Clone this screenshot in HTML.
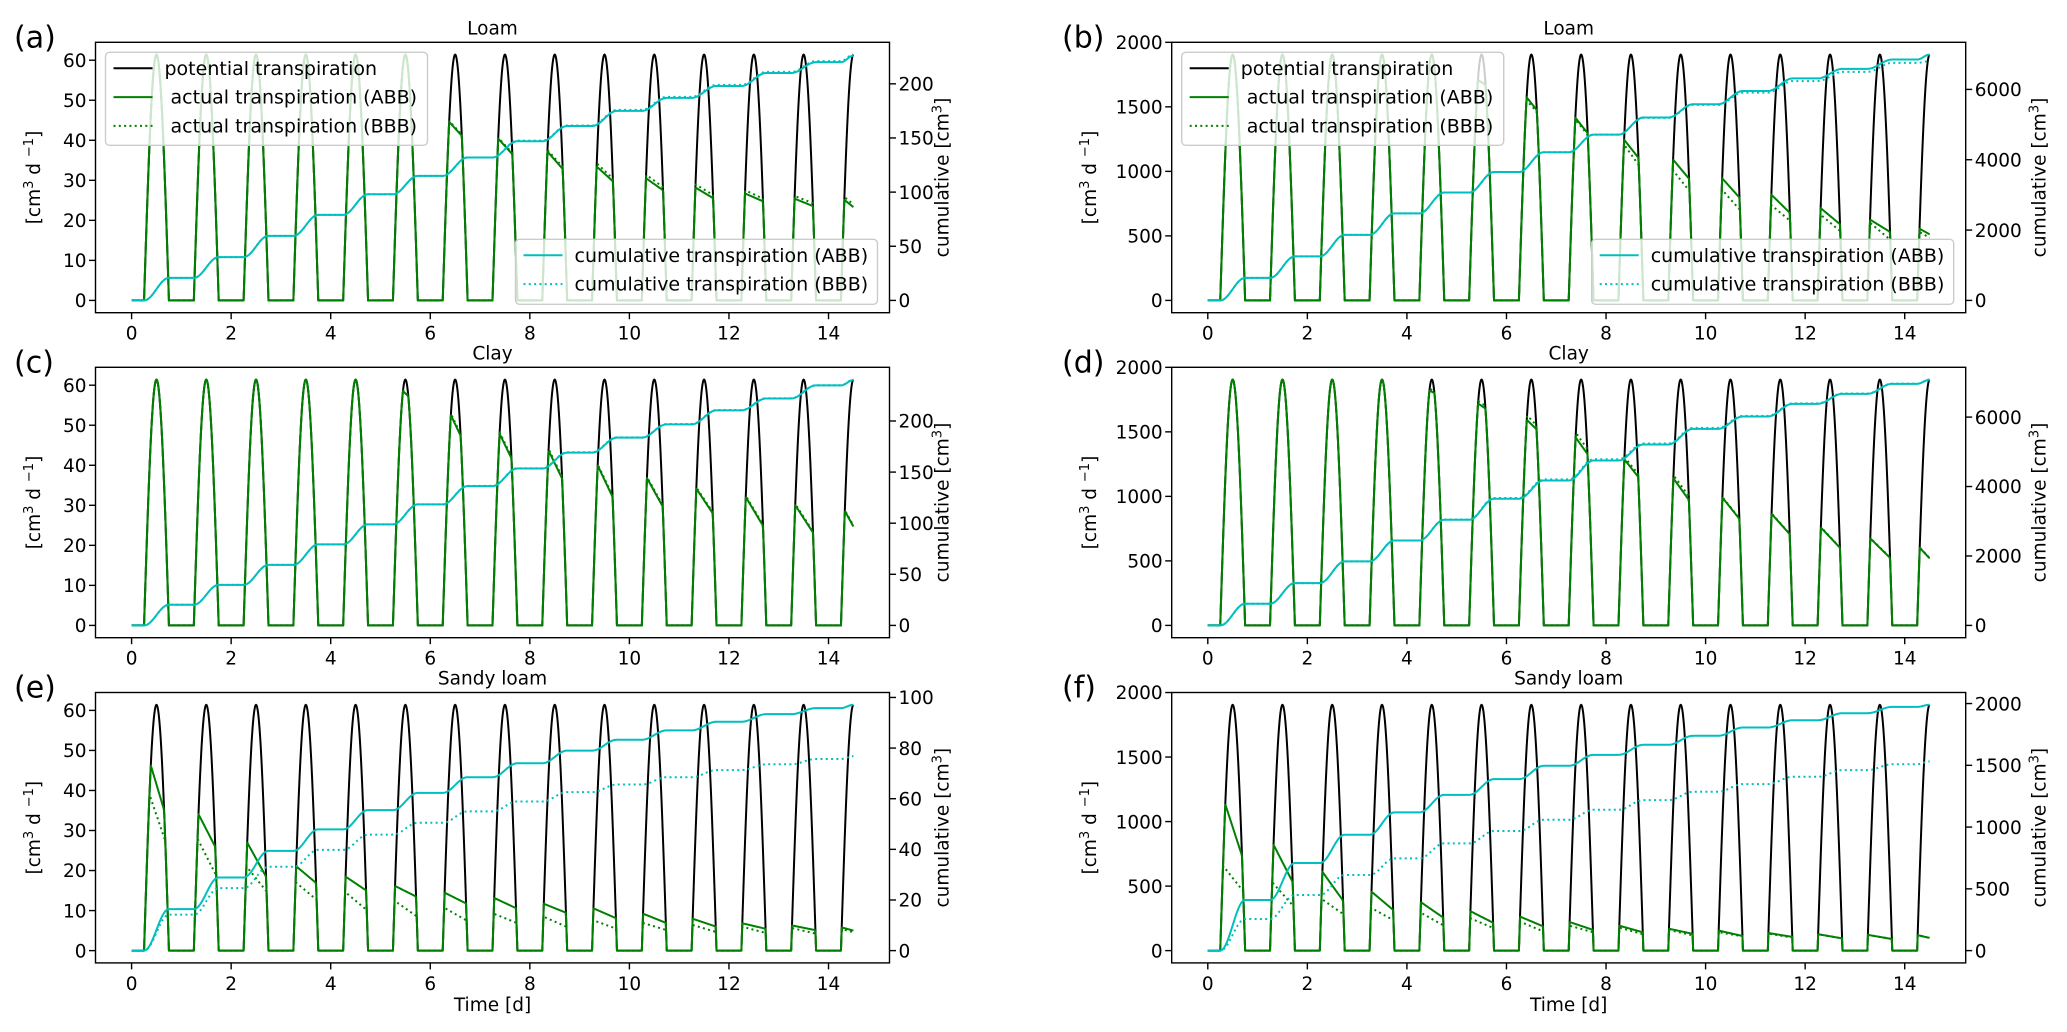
<!DOCTYPE html>
<html><head><meta charset="utf-8"><title>Transpiration chart</title>
<style>
html,body{margin:0;padding:0;background:#fff;}
svg{display:block;}
text{font-family:"DejaVu Sans","Liberation Sans",sans-serif;fill:#000;white-space:pre;}
</style></head>
<body>
<svg id="chart" xmlns="http://www.w3.org/2000/svg" width="2067" height="1032" viewBox="0 0 2067 1032"></svg>
<script>
// ---------- shared data ----------
const xTicks = [0, 2, 4, 6, 8, 10, 12, 14];
const tEnd = 14.5;
const potPeakL = 61.4;
const potPeakR = 1905;
const leftTicksL = [0, 10, 20, 30, 40, 50, 60];
const leftTicksR = [0, 500, 1000, 1500, 2000];
const rightTicksAC = [0, 50, 100, 150, 200];
const rightTicksE = [0, 20, 40, 60, 80, 100];
const rightTicksBD = [0, 2000, 4000, 6000];
const rightTicksF = [0, 500, 1000, 1500, 2000];
const N = null;
// ---------- panel (a) Loam ----------
const aAbbStart = [N,N,N,N,N,N,44.6,40.2,36.8,33.0,30.1,27.8,26.4,25.1,24.5];
const aAbbEnd   = [N,N,N,N,N,N,41.3,36.9,33.4,30.3,28.0,26.0,25.1,23.9,22.1];
const aBbbStart = [N,N,N,N,N,N,44.8,40.4,37.2,33.8,31.0,28.6,27.2,25.8,25.2];
const aBbbEnd   = [N,N,N,N,N,N,41.6,37.2,33.9,31.0,28.8,26.8,25.8,24.6,22.8];
const aCumAbb = [20.8,40,59.6,79,98,115,132,147,161,175,187,198,210,220,226];
const aCumBbb = [20.8,40,59.6,79,98,115,132,147.5,161.5,176,188,199,211,221,227];
// ---------- panel (b) Loam ----------
const bAbbStart = [N,N,N,N,N,1720,1586,1418,1237,1076,926,797,693,608,538];
const bAbbEnd   = [N,N,N,N,N,1660,1470,1301,1120,965,823,706,616,551,486];
const bBbbStart = [N,N,N,N,N,1720,1560,1405,1198,991,836,719,642,577,512];
const bBbbEnd   = [N,N,N,N,N,1660,1457,1288,1069,875,732,642,564,499,460];
const bCumAbb = [640,1251,1863,2474,3067,3650,4214,4713,5202,5579,5955,6312,6585,6849,6990];
const bCumBbb = [640,1251,1863,2474,3067,3650,4214,4713,5190,5560,5908,6237,6500,6755,6802];
// ---------- panel (c) Clay ----------
const cAbbStart = [N,N,N,N,N,59.4,53.4,48.2,43.6,39.5,36.2,33.5,31.2,29.1,27.4];
const cAbbEnd   = [N,N,N,N,N,56.5,47.1,42.0,37.4,33.2,30.8,29.0,26.2,24.5,22.0];
const cBbbStart = [N,N,N,N,N,59.6,53.8,48.6,44.0,39.8,36.5,33.8,31.5,29.4,27.6];
const cBbbEnd   = [N,N,N,N,N,56.8,47.5,42.4,37.8,33.5,31.1,29.3,26.5,24.8,22.3];
const cCumAbb = [20.2,39.7,59.2,79.3,98.9,118.4,136.3,153.5,169,183.7,196.7,210.4,222,234.8,240];
const cCumBbb = [20.2,39.7,59.2,79.3,98.9,118.4,136.5,153.8,169.4,184,197,210.7,222.3,235,240.5];
// ---------- panel (d) Clay ----------
const dAbbStart = [N,N,N,N,1837,1733,1604,1462,1281,1125,970,841,732,647,569];
const dAbbEnd   = [N,N,N,N,1785,1669,1514,1332,1164,996,854,737,634,556,470];
const dBbbStart = [N,N,N,N,1850,1753,1640,1500,1300,1150,975,845,736,650,572];
const dBbbEnd   = [N,N,N,N,1800,1690,1545,1370,1185,1025,858,740,637,559,473];
const dCumAbb = [624,1219,1843,2447,3042,3647,4175,4750,5211,5662,6017,6382,6670,6958,7073];
const dCumBbb = [624,1219,1843,2447,3050,3670,4205,4785,5240,5690,6035,6395,6680,6965,7080];
// ---------- panel (e) Sandy loam ----------
const eAbbStart = [46.5,33.2,25.7,20.3,17.8,15.6,13.9,12.6,11.2,10.0,8.7,7.5,6.5,6.0,5.4];
const eAbbEnd   = [36.5,27.4,20.3,17.8,15.8,14.1,12.4,11.2,10.0,8.7,7.5,6.5,5.8,5.4,4.6];
const eBbbStart = [38.2,26.6,19.9,16.2,13.7,11.6,10.0,8.7,7.9,7.1,6.5,6.0,5.6,5.3,5.0];
const eBbbEnd   = [29.5,20.7,16.2,13.7,11.2,9.5,8.3,7.5,6.6,6.0,5.6,5.1,4.8,4.6,4.2];
const eCumAbb = [16.4,28.9,39.4,47.9,55.5,62.3,68.5,74,79,83.3,87,90.4,93.4,95.8,97.1];
const eCumBbb = [14.2,24.7,33.1,39.8,45.8,50.5,55,58.9,62.6,65.6,68.5,71.3,73.6,75.7,76.8];
// ---------- panel (f) Sandy loam ----------
const fAbbStart = [1100,776,569,427,349,285,246,207,181,160,145,129,119,114,109];
const fAbbEnd   = [815,595,440,349,285,238,207,176,155,140,124,114,103,98,88];
const fBbbStart = [621,492,375,310,272,233,207,181,166,150,135,124,119,114,109];
const fBbbEnd   = [505,388,310,259,220,194,168,155,140,129,119,109,103,98,86];
const fCumAbb = [410,709,938,1119,1261,1388,1496,1585,1666,1739,1806,1865,1922,1973,1990];
const fCumBbb = [256,450,612,747,868,968,1059,1140,1218,1286,1348,1407,1461,1509,1531];

// ---------- layout ----------
const NS = 'http://www.w3.org/2000/svg';
const svg = document.getElementById('chart');
const colX = [95.5, 1171.7];
const rowY = [42.3, 367.3, 692.5];
const PW = 794, PH = 270.4;
const XMIN = -0.725, XMAX = 15.225;
const GREEN = '#008000', CYAN = '#00bfbf';

function mk(tag, attrs, parent) {
  const e = document.createElementNS(NS, tag);
  for (const k in attrs) e.setAttribute(k, attrs[k]);
  (parent || svg).appendChild(e);
  return e;
}
function txt(s, attrs, parent) { const e = mk('text', attrs, parent); e.textContent = s; return e; }

function potential(t, P) { return P * Math.max(0, -Math.cos(2 * Math.PI * t)); }
function actual(t, P, starts, ends) {
  const d = Math.min(14, Math.floor(t + 1e-9));
  const s = t - d;
  const tp = potential(t, P);
  if (starts[d] === null) return tp;
  if (s < 0.25 || s > 0.75) return 0;
  const cap = starts[d] + (ends[d] - starts[d]) * (s - 0.38) / 0.24;
  return Math.max(0, Math.min(tp, cap));
}
function cumulative(t, C) {
  const d = Math.min(14, Math.floor(t + 1e-9));
  const s = t - d;
  const prev = d === 0 ? 0 : C[d - 1];
  const riseEnd = Math.min(0.75, tEnd - d);
  if (s <= 0.25) return prev;
  if (s >= riseEnd) return C[d];
  const u = (s - 0.25) / (riseEnd - 0.25);
  return prev + (C[d] - prev) * (1 - Math.cos(Math.PI * u)) / 2;
}
function fmt(v) { return String(v); }

function panel(cfg) {
  const x0 = colX[cfg.col], y0 = rowY[cfg.row];
  const g = mk('g', {});
  
  
  const P = cfg.P;
  const yL0 = -0.05 * P, yL1 = 1.05 * P;
  const M = Math.max(Math.max.apply(null, cfg.cumAbb), Math.max.apply(null, cfg.cumBbb));
  const yR0 = -0.05 * M, yR1 = 1.05 * M;
  const sx = t => x0 + (t - XMIN) / (XMAX - XMIN) * PW;
  const syL = v => y0 + PH - (v - yL0) / (yL1 - yL0) * PH;
  const syR = v => y0 + PH - (v - yR0) / (yR1 - yR0) * PH;
  const clipId = 'clip-' + cfg.id;
  const cp = mk('clipPath', { id: clipId }, g);
  mk('rect', { x: x0, y: y0, width: PW, height: PH }, cp);

  const ts = [];
  const step = 1 / 96;
  for (let i = 0; i * step <= tEnd + 1e-9; i++) ts.push(i * step);
  function path(fn, sy, color, dashed, name) {
    let d = '';
    ts.forEach((t, i) => { d += (i ? 'L' : 'M') + sx(t).toFixed(2) + ' ' + sy(fn(t)).toFixed(2); });
    const p = mk('path', { d: d, fill: 'none', stroke: color, 'stroke-width': 2, 'stroke-linejoin': 'round', 'clip-path': 'url(#' + clipId + ')' }, g);
    if (dashed) p.setAttribute('stroke-dasharray', '2 3.3');
    
    
  }
  path(t => potential(t, P), syL, '#000', false, 'potential-transpiration-line');
  path(t => actual(t, P, cfg.abbS, cfg.abbE), syL, GREEN, false, 'actual-transpiration-abb-line');
  path(t => actual(t, P, cfg.bbbS, cfg.bbbE), syL, GREEN, true, 'actual-transpiration-bbb-line');
  path(t => cumulative(t, cfg.cumAbb), syR, CYAN, false, 'cumulative-transpiration-abb-line');
  path(t => cumulative(t, cfg.cumBbb), syR, CYAN, true, 'cumulative-transpiration-bbb-line');

  const frame = mk('rect', { x: x0, y: y0, width: PW, height: PH, fill: 'none', stroke: '#000', 'stroke-width': 1.4 }, g);
  
  

  xTicks.forEach(v => {
    const x = sx(v);
    mk('line', { x1: x, x2: x, y1: y0 + PH, y2: y0 + PH + 6.5, stroke: '#000', 'stroke-width': 1.4 }, g);
    const t = txt(fmt(v), { x: x, y: y0 + PH + 27, 'font-size': 18.5, 'text-anchor': 'middle' }, g);
    
    
  });
  cfg.lt.forEach(v => {
    const y = syL(v);
    mk('line', { x1: x0 - 6.5, x2: x0, y1: y, y2: y, stroke: '#000', 'stroke-width': 1.4 }, g);
    const t = txt(fmt(v), { x: x0 - 9, y: y + 6.7, 'font-size': 18.5, 'text-anchor': 'end' }, g);
    
    
  });
  cfg.rt.forEach(v => {
    const y = syR(v);
    mk('line', { x1: x0 + PW, x2: x0 + PW + 6.5, y1: y, y2: y, stroke: '#000', 'stroke-width': 1.4 }, g);
    const t = txt(fmt(v), { x: x0 + PW + 9, y: y + 6.7, 'font-size': 18.5, 'text-anchor': 'start' }, g);
    
    
  });

  const title = txt(cfg.title, { x: x0 + PW / 2, y: y0 - 8, 'font-size': 18.5, 'text-anchor': 'middle' }, g);
  
  

  const lab = txt('(' + cfg.id + ')', { x: cfg.col ? 1062 : 14, y: y0 + 5, 'font-size': 30, 'font-family': 'Liberation Sans, sans-serif' }, g);
  
  

  const lx = cfg.col ? 1096 : 40, ly = y0 + PH / 2;
  const yl = mk('text', { x: lx, y: ly, 'font-size': 18.5, 'text-anchor': 'middle', transform: 'rotate(-90 ' + lx + ' ' + ly + ')' }, g);
  yl.innerHTML = '[cm<tspan dy="-7" font-size="13">3</tspan><tspan dy="7"> d </tspan><tspan dy="-7" font-size="13">−1</tspan><tspan dy="7">]</tspan>';
  
  
  const rx = x0 + PW + cfg.rOff;
  const yr = mk('text', { x: rx, y: ly, 'font-size': 18.5, 'text-anchor': 'middle', transform: 'rotate(-90 ' + rx + ' ' + ly + ')' }, g);
  yr.innerHTML = 'cumulative [cm<tspan dy="-7" font-size="13">3</tspan><tspan dy="7">]</tspan>';
  
  

  if (cfg.row === 2) {
    const xl = txt('Time [d]', { x: x0 + PW / 2, y: y0 + PH + 48, 'font-size': 18.5, 'text-anchor': 'middle' }, g);
    
    
  }

  if (cfg.legend) {
    function legend(bx, by, bw, bh, entries, name) {
      const lg = mk('g', {}, g);
      
      
      mk('rect', { x: bx, y: by, width: bw, height: bh, rx: 4, fill: '#fff', 'fill-opacity': 0.8, stroke: '#cccccc', 'stroke-width': 1.4 }, lg);
      entries.forEach((en, i) => {
        const ey = by + 16 + i * 28.8;
        const ln = mk('line', { x1: bx + 8, x2: bx + 47, y1: ey, y2: ey, stroke: en[1], 'stroke-width': 2 }, lg);
        if (en[2]) ln.setAttribute('stroke-dasharray', '2 3.3');
        const t = txt(en[0], { x: bx + 59, y: ey + 6.5, 'font-size': 19 }, lg);
        
        
      });
    }
    legend(x0 + 10, y0 + 10, 322, 93, [
      ['potential transpiration', '#000', false],
      [' actual transpiration (ABB)', GREEN, false],
      [' actual transpiration (BBB)', GREEN, true]], 'legend-transpiration');
    legend(x0 + PW - 374, y0 + 197, 362, 65, [
      ['cumulative transpiration (ABB)', CYAN, false],
      ['cumulative transpiration (BBB)', CYAN, true]], 'legend-cumulative');
  }
}

panel({ id: 'a', col: 0, row: 0, rOff: 59, title: 'Loam', P: potPeakL, abbS: aAbbStart, abbE: aAbbEnd, bbbS: aBbbStart, bbbE: aBbbEnd, cumAbb: aCumAbb, cumBbb: aCumBbb, lt: leftTicksL, rt: rightTicksAC, legend: true });
panel({ id: 'b', col: 1, row: 0, rOff: 80, title: 'Loam', P: potPeakR, abbS: bAbbStart, abbE: bAbbEnd, bbbS: bBbbStart, bbbE: bBbbEnd, cumAbb: bCumAbb, cumBbb: bCumBbb, lt: leftTicksR, rt: rightTicksBD, legend: true });
panel({ id: 'c', col: 0, row: 1, rOff: 59, title: 'Clay', P: potPeakL, abbS: cAbbStart, abbE: cAbbEnd, bbbS: cBbbStart, bbbE: cBbbEnd, cumAbb: cCumAbb, cumBbb: cCumBbb, lt: leftTicksL, rt: rightTicksAC, legend: false });
panel({ id: 'd', col: 1, row: 1, rOff: 80, title: 'Clay', P: potPeakR, abbS: dAbbStart, abbE: dAbbEnd, bbbS: dBbbStart, bbbE: dBbbEnd, cumAbb: dCumAbb, cumBbb: dCumBbb, lt: leftTicksR, rt: rightTicksBD, legend: false });
panel({ id: 'e', col: 0, row: 2, rOff: 59, title: 'Sandy loam', P: potPeakL, abbS: eAbbStart, abbE: eAbbEnd, bbbS: eBbbStart, bbbE: eBbbEnd, cumAbb: eCumAbb, cumBbb: eCumBbb, lt: leftTicksL, rt: rightTicksE, legend: false });
panel({ id: 'f', col: 1, row: 2, rOff: 80, title: 'Sandy loam', P: potPeakR, abbS: fAbbStart, abbE: fAbbEnd, bbbS: fBbbStart, bbbE: fBbbEnd, cumAbb: fCumAbb, cumBbb: fCumBbb, lt: leftTicksR, rt: rightTicksF, legend: false });
</script>
</body></html>
